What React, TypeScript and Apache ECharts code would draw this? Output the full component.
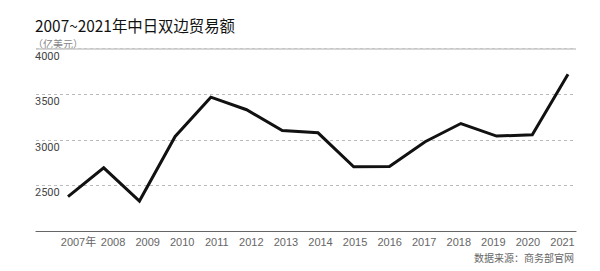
import React, { useEffect, useRef } from "react";
import * as echarts from "echarts";

const years = [2007, 2008, 2009, 2010, 2011, 2012, 2013, 2014, 2015, 2016, 2017, 2018, 2019, 2020, 2021];
const yearLabels = ["2007年", "2008", "2009", "2010", "2011", "2012", "2013", "2014", "2015", "2016", "2017", "2018", "2019", "2020", "2021"];
const tradeValues = [2377, 2692, 2329, 3036, 3467, 3329, 3101, 3076, 2703, 2707, 2978, 3178, 3040, 3054, 3717];
const yTicks = [2000, 2500, 3000, 3500, 4000];
const titleText = "2007~2021年中日双边贸易额";
const unitText = "（亿美元）";
const sourceText = "数据来源：商务部官网";

export default function App() {
  const ref = useRef<HTMLDivElement>(null);
  useEffect(() => {
    if (!ref.current) return;
    const chart = echarts.init(ref.current, null, { renderer: "svg" });
    const seriesData = years.map((y, i) => [y, tradeValues[i]]);
    chart.setOption({
      animation: false,
      backgroundColor: "#ffffff",
      grid: [
        { left: 36, right: 24, top: 48.5, bottom: 40 },
        { left: 78.5, right: 37.5, top: 48.5, bottom: 40 },
      ],
      xAxis: [
        {
          type: "value",
          gridIndex: 0,
          min: 2006.104,
          max: 2021.224,
          axisLabel: { show: false },
          axisTick: { show: false },
          splitLine: { show: false },
          axisLine: { show: true, onZero: false, lineStyle: { color: "#666", width: 1.2 } },
        },
        {
          type: "category",
          gridIndex: 1,
          data: yearLabels,
          boundaryGap: false,
          axisLine: { show: false },
          axisTick: { show: false },
          axisLabel: {
            interval: 0,
            margin: 5,
            color: "#666",
            fontSize: 11,
            fontFamily: "'Liberation Sans', 'Noto Sans CJK SC', sans-serif",
          },
        },
      ],
      yAxis: [
        {
          type: "value",
          gridIndex: 0,
          min: yTicks[0],
          max: yTicks[yTicks.length - 1],
          interval: 500,
          axisLine: { show: false },
          axisTick: { show: false },
          axisLabel: {
            align: "left",
            verticalAlign: "top",
            margin: 1,
            padding: [2, 0, 0, 0],
            color: "#444",
            fontSize: 11,
            fontFamily: "'Liberation Sans Narrow', 'Roboto', sans-serif",
            formatter: (v: number) => (v === yTicks[0] ? "" : String(v)),
          },
          splitLine: {
            show: true,
            lineStyle: { color: "#bbb", type: [3, 3], width: 1 },
          },
        },
        {
          type: "value",
          gridIndex: 1,
          show: false,
          min: 2000,
          max: 4000,
        },
      ],
      series: [
        {
          type: "line",
          xAxisIndex: 0,
          yAxisIndex: 0,
          data: seriesData,
          symbol: "none",
          lineStyle: { color: "#111", width: 3, join: "miter" },
          markLine: {
            silent: true,
            symbol: "none",
            label: { show: false },
            lineStyle: { color: "#c8c8c8", type: "solid", width: 1.5 },
            data: [{ yAxis: 4000 }],
          },
          z: 5,
        },
      ],
      graphic: [
        {
          type: "text",
          x: 35,
          y: 25,
          style: {
            text: titleText,
            fill: "#111",
            font: "15.4px 'Noto Sans CJK SC', sans-serif",
            lineHeight: 14,
            verticalAlign: "middle",
          },
        },
        {
          type: "text",
          x: 33,
          y: 43.5,
          style: {
            text: unitText,
            fill: "#888",
            font: "10px 'Noto Sans CJK SC', sans-serif",
            lineHeight: 10,
            verticalAlign: "middle",
          },
        },
        {
          type: "text",
          x: 574,
          y: 257,
          style: {
            text: sourceText,
            fill: "#666",
            font: "10px 'Noto Sans CJK SC', sans-serif",
            align: "right",
            verticalAlign: "middle",
          },
        },
      ],
    });
    return () => chart.dispose();
  }, []);
  return (
    <div
      ref={ref}
      style={{ position: "absolute", left: 0, top: 0, width: 600, height: 271 }}
    />
  );
}
